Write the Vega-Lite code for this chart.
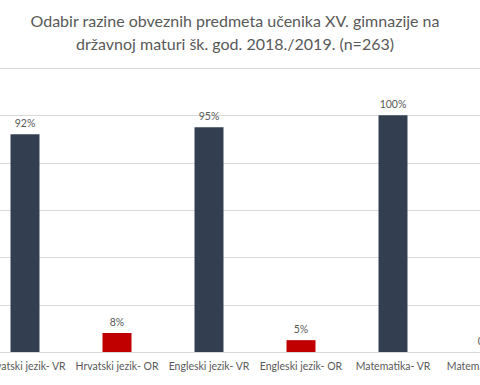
{
  "$schema": "https://vega.github.io/schema/vega-lite/v6.json",
  "autosize": {"type": "none"},
  "width": 552,
  "height": 284,
  "padding": {"left": -21, "top": 68, "right": -51, "bottom": 33},
  "background": "white",
  "title": {
    "text": ["Odabir razine obveznih predmeta učenika XV. gimnazije na", "državnoj maturi šk. god. 2018./2019. (n=263)"],
    "font": "Lato",
    "fontSize": 16,
    "fontWeight": "normal",
    "color": "#595959",
    "anchor": "middle",
    "dx": -20,
    "lineHeight": 23,
    "offset": 15
  },
  "data": {
    "values": [
      {"predmet": "Hrvatski jezik- VR", "razina": "VR", "udio": 92, "oznaka": "92%"},
      {"predmet": "Hrvatski jezik- OR", "razina": "OR", "udio": 8, "oznaka": "8%"},
      {"predmet": "Engleski jezik- VR", "razina": "VR", "udio": 95, "oznaka": "95%"},
      {"predmet": "Engleski jezik- OR", "razina": "OR", "udio": 5, "oznaka": "5%"},
      {"predmet": "Matematika- VR", "razina": "VR", "udio": 100, "oznaka": "100%"},
      {"predmet": "Matematika- OR", "razina": "OR", "udio": 0, "oznaka": "0%"}
    ]
  },
  "encoding": {
    "x": {
      "field": "predmet",
      "type": "nominal",
      "sort": null,
      "scale": {"paddingInner": 0.685, "paddingOuter": 0.3425},
      "axis": {
        "title": null,
        "labelAngle": 0,
        "labelFont": "Lato",
        "labelFontSize": 10.5,
        "labelColor": "#595959",
        "labelPadding": 9,
        "ticks": false,
        "domainColor": "#d9d9d9",
        "domainWidth": 1,
        "labelOverlap": false,
        "labelLimit": 200
      }
    },
    "y": {
      "field": "udio",
      "type": "quantitative",
      "scale": {"domain": [0, 120]},
      "axis": {
        "title": null,
        "labels": false,
        "ticks": false,
        "domain": false,
        "grid": true,
        "gridColor": "#d9d9d9",
        "gridWidth": 1,
        "values": [0, 20, 40, 60, 80, 100, 120]
      }
    }
  },
  "layer": [
    {
      "mark": {"type": "bar"},
      "encoding": {
        "color": {
          "field": "razina",
          "type": "nominal",
          "scale": {"domain": ["VR", "OR"], "range": ["#333f50", "#c00000"]},
          "legend": null
        }
      }
    },
    {
      "mark": {"type": "text", "baseline": "bottom", "dy": -5, "font": "Lato", "fontSize": 10.5, "color": "#595959"},
      "encoding": {"text": {"field": "oznaka"}}
    }
  ],
  "config": {"view": {"stroke": null}}
}
